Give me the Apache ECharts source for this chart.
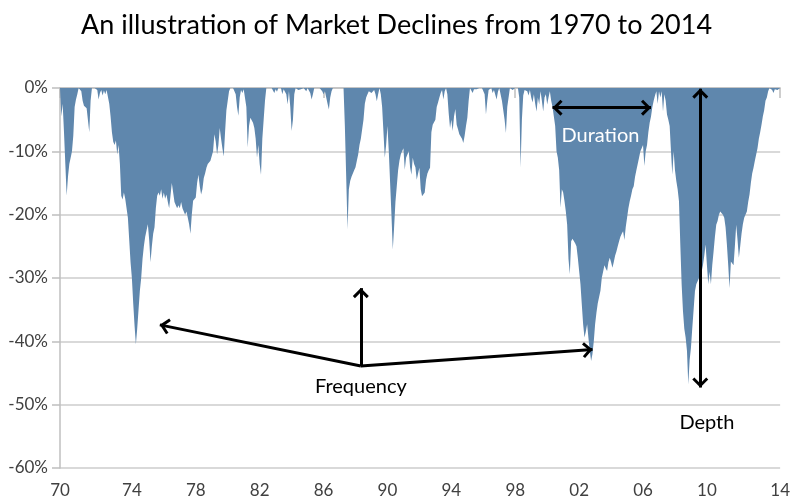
<!DOCTYPE html>
<html>
<head>
<meta charset="utf-8">
<script src="https://cdn.jsdelivr.net/npm/echarts@6/dist/echarts.min.js"></script>
<style>html,body{margin:0;padding:0;background:#fff}#c{width:793px;height:502px}</style>
</head>
<body>
<div id="c"></div>
<script>
// first month of the monthly drawdown series
const startYear = 1969;
const startMonth = 7;

// monthly drawdown from previous peak, %
const drawdown = [
  0,-4.5,-2.5,-7,-12,-17,-14,-12,-11,-10,-7.5,-3,
  -1.8,-1,0,0,-0.5,-2,-2.8,-2.5,-3.2,-3.5,-7,-2,
  0,0,0,0,-0.3,-1.8,-0.8,-0.3,-1.2,-0.4,-1,-0.3,
  0,-2.5,-4.5,-7,-8.5,-9,-8.3,-10.5,-9,-12,-17,-17.6,
  -16.5,-17.5,-19,-20.5,-24,-27.5,-30,-34,-37.5,-40.5,-38,-35,
  -32,-30,-27,-25,-23.5,-22.5,-21.5,-24,-27.5,-25,-23,-22,
  -19,-17,-16.5,-17,-16,-17.5,-16.5,-17.5,-16.8,-18,-19,-17,
  -15,-16.5,-18,-18.3,-19,-18.5,-19,-18,-19,-19.5,-20,-19.5,
  -20.5,-21.5,-23,-20,-17.8,-18,-17.3,-15,-13.7,-15.5,-16.8,-16,
  -14.2,-13.5,-12.6,-12,-11.8,-11.5,-11.6,-10,-7.3,-8.5,-10.5,-9,
  -6.3,-8,-9.5,-10.8,-7,-3.5,-2,-0.5,0,0,0,0,
  -1,-3,-4.4,-1.5,-0.3,-0.8,-0.2,-0.5,-3,-9.4,-6,-4.7,
  -5,-5.5,-6.3,-8,-11,-9,-12,-13.7,-8,-5,-2,0,
  0,0,0,0,0,-0.8,-0.2,-0.6,0,-0.3,0,-1,
  -0.2,0,-1,-2.6,-0.5,-3,-6.8,-5,-1,0,0,-0.3,
  -0.5,-0.2,-0.5,0,-0.2,-0.5,0,-0.3,-0.8,-1.8,-1,0,
  0,0,0,0,-0.3,-0.5,-1,-0.5,-1.5,-2.5,-3.4,-1.5,
  -0.5,0,0,0,0,0,0,0,0,0,-6,-14,
  -22.3,-16,-14.7,-14,-13.5,-13,-12.5,-11.5,-10.5,-9,-8,-6.5,
  -5,-2.5,-1.5,-1,-0.5,-0.3,-0.8,-0.5,-0.3,-1,-2.1,-1,
  0,-1,-3,-7,-11,-9,-6,-10,-15,-20,-25.5,-22,
  -18,-15.5,-13,-11.5,-10.5,-10,-9.5,-12.9,-11,-10.5,-10,-12.5,
  -13.7,-11,-12,-12.5,-14.5,-13.5,-12.6,-16,-17.1,-17,-16.5,-14.5,
  -13.5,-13,-12.6,-7,-5.8,-6,-5,-3,-2.3,-1.5,-0.8,-0.3,
  -1.8,-0.5,0,-1,-4,-6.3,-5,-6.8,-4.5,-3.3,-5.8,-6.5,
  -7.3,-7.5,-8,-8.7,-7.5,-6,-4.7,-2,0,-0.3,-0.8,-0.2,
  0,-0.2,-0.3,0,0,0,0,-1,-4.2,-2,-0.3,0,
  0,-0.8,-0.3,-0.5,-1.8,-0.6,0,0,-2,-3.5,-5,-7.1,
  -3,-1.5,0,0,-0.3,-0.5,0,0,0,-1.5,-12.6,-5,
  -1.2,-0.3,0,-0.5,-1.2,-0.3,-1.5,-2.3,-1,-2.5,-3.7,-1.5,
  -2.6,-0.5,-2,-3.7,-1.5,-1,-2.6,-1.5,-0.5,-2,-3,-4.5,
  -6,-10,-11,-13,-18.9,-16,-16.5,-17.9,-19.5,-21.6,-27,-29.4,
  -24.2,-23.8,-23.7,-24.5,-25,-26.8,-28.9,-31,-34.2,-37.3,-39.4,-38.5,
  -37.3,-39.5,-41.5,-43.1,-42,-40,-37.3,-35.5,-34,-33,-32,-30,
  -29,-28,-28.5,-28.9,-27.5,-26.8,-27.5,-28.4,-27.5,-26.5,-25.8,-25,
  -24.2,-23.5,-23,-22.6,-24,-22,-20.5,-19,-17.9,-17,-16,-15.5,
  -14,-13,-12,-11,-10,-9.5,-9,-12.3,-10,-9,-7,-5.5,
  -4.5,-3,-2,-1.2,-0.5,-2.5,-0.5,-1.5,-0.5,-3.7,-1,-2,
  -4.2,-5,-6,-10,-13.7,-10,-13,-14.7,-16,-17.9,-24.7,-31,
  -35.2,-38,-39.4,-41.5,-46.8,-43,-41,-37.9,-35,-32.1,-31,-30.5,
  -30,-29.5,-29,-28,-26.5,-24.7,-28,-31,-29,-31,-28,-25.8,
  -23.5,-21.6,-21,-20,-19.5,-19.5,-20,-20.5,-22,-24.7,-28,-31.6,
  -27.4,-27.5,-28,-25,-21.6,-24,-26.8,-25,-23,-21.5,-20.5,-20.3,
  -19.5,-18,-16.8,-15,-13.5,-12.6,-11.5,-10.5,-9.5,-8,-7,-5.8,
  -4.5,-3.5,-2,-1.5,-0.5,0,0,-0.3,-0.8,-0.2,0,-0.3,
  0,0
];

// x-axis ticks: month index in series and label
const xTickIndex  = [0, 54, 102, 150, 198, 246, 294, 342, 390, 438, 486, 541];
const xTickLabels = ['70','74','78','82','86','90','94','98','02','06','10','14'];

// y-axis range (%)
const yMin = -60, yMax = 0, yStep = 10;

// annotations in data coordinates [month index, %]
const arrows = [
  {from: [226, -43.9], to: [75, -37.4], double: false},
  {from: [226, -43.9], to: [226, -31.6], double: false},
  {from: [226, -43.9], to: [400, -41.3], double: false},
  {from: [370, -3.1], to: [444, -3.1], double: true},
  {from: [481, -0.1], to: [481, -47.3], double: true}
];
const notes = [
  {text: 'Frequency', at: [226, -47.2], color: '#000000'},
  {text: 'Duration', at: [406, -7.5], color: '#ffffff'},
  {text: 'Depth', at: [486, -52.8], color: '#000000'}
];

const months = drawdown.map((_, i) => {
  const m = startMonth - 1 + i;
  const y = startYear + Math.floor(m / 12);
  return y + '-' + String(m % 12 + 1).padStart(2, '0');
});
const tickMap = {};
xTickIndex.forEach((idx, k) => { tickMap[idx] = xTickLabels[k]; });

const FONT = 'Lato, "Open Sans", sans-serif';
// open chevron, tip at the centre of its box
const chev = 'path://M8,0 L8.01,0 L8,0.01 Z M8,10 L16,18 L13.9,20.1 L8,14.2 L2.1,20.1 L0,18 Z';
const chevSize = [16, 20.1];

const chart = echarts.init(document.getElementById('c'), null, {renderer: 'canvas'});
chart.setOption({
  animation: false,
  backgroundColor: '#ffffff',
  title: {
    text: 'An illustration of Market Declines from 1970 to 2014',
    left: 'center', top: 7,
    textStyle: {fontFamily: FONT, fontSize: 27, fontWeight: 'normal', color: '#000'}
  },
  grid: {left: 60, right: 10, top: 88, bottom: 34},
  xAxis: {
    type: 'category',
    data: months,
    boundaryGap: false,
    axisLine: {lineStyle: {color: '#bfbfbf', width: 1.5}},
    axisTick: {show: true, length: 10, interval: (i) => tickMap[i] !== undefined, lineStyle: {color: '#bfbfbf', width: 1.5}},
    axisLabel: {
      interval: (i) => tickMap[i] !== undefined,
      formatter: (v, i) => tickMap[i] || '',
      fontFamily: FONT, fontSize: 17, color: '#404040', margin: 14
    },
    splitLine: {show: false}
  },
  yAxis: {
    type: 'value',
    min: yMin, max: yMax, interval: yStep,
    axisLine: {show: true, lineStyle: {color: '#bfbfbf', width: 1.5}},
    axisTick: {show: true, length: 8, lineStyle: {color: '#bfbfbf', width: 1.5}},
    axisLabel: {formatter: '{value}%', fontFamily: FONT, fontSize: 17, color: '#404040', margin: 12},
    splitLine: {lineStyle: {color: '#cccccc', width: 1.5}}
  },
  series: [{
    type: 'line',
    data: drawdown,
    symbol: 'none',
    lineStyle: {width: 0},
    areaStyle: {color: '#5f87ad', opacity: 1, origin: 'end'},
    silent: true,
    markLine: {
      silent: true,
      animation: false,
      symbol: ['none', 'none'],
      label: {show: false},
      lineStyle: {color: '#000', width: 3, type: 'solid'},
      data: [
        [{yAxis: 0, lineStyle: {color: '#000', width: 2}}, {yAxis: 0}]
      ].concat(arrows.map(a => [
        {coord: a.from, symbol: a.double ? chev : 'none', symbolSize: chevSize},
        {coord: a.to, symbol: chev, symbolSize: chevSize}
      ]))
    },
    markPoint: {
      silent: true,
      animation: false,
      symbol: 'circle',
      symbolSize: 1,
      itemStyle: {color: 'rgba(0,0,0,0)'},
      data: notes.map(n => ({
        name: n.text, coord: n.at,
        label: {show: true, position: 'inside', formatter: '{b}', color: n.color, fontFamily: FONT, fontSize: 20}
      }))
    }
  }]
});
</script>
</body>
</html>
